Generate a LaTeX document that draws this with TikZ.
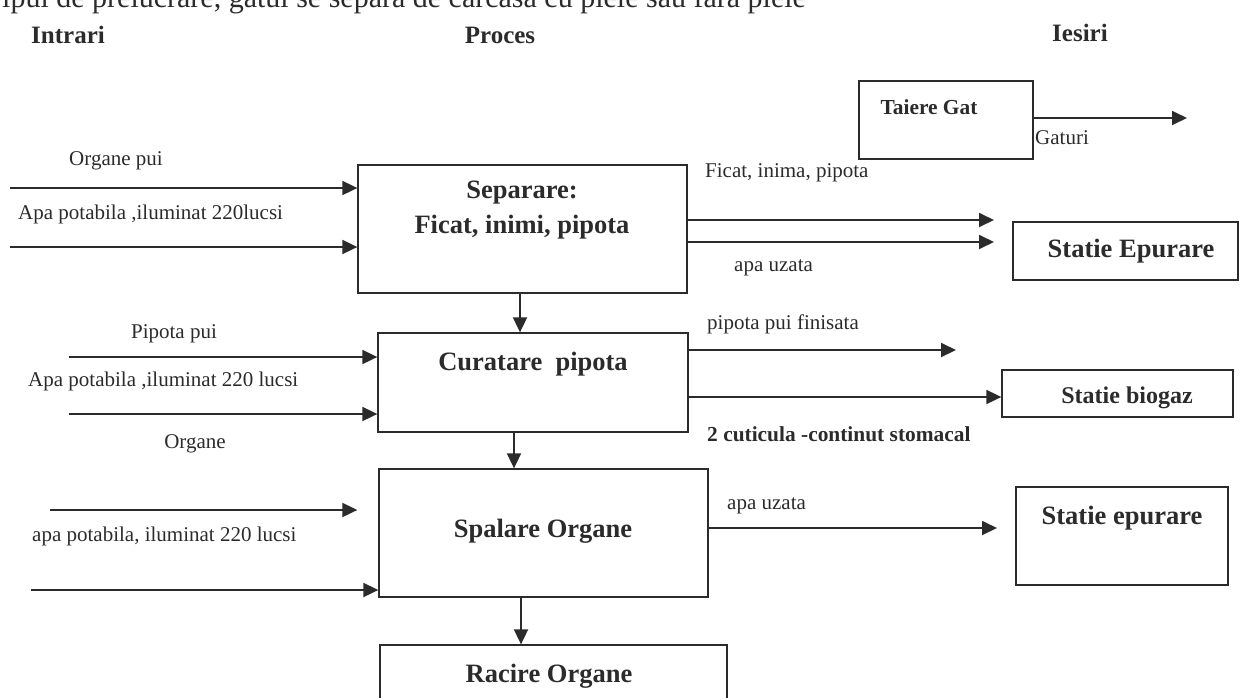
\documentclass[tikz,border=0pt]{standalone}
\usepackage{fontspec}
\setmainfont{Liberation Serif}
\usetikzlibrary{arrows.meta,calc}
\definecolor{ink}{HTML}{2B2B2B}
\tikzset{
  box/.style={draw=ink, line width=1.3pt, rectangle, inner sep=0pt},
  flow/.style={draw=ink, line width=1.8pt, -{Triangle[length=15pt,width=14pt]}},
  lbl/.style={font=\fontsize{21}{24}\selectfont, text=ink, inner sep=0pt},
  blbl/.style={font=\bfseries\fontsize{21.4}{24}\selectfont, text=ink, inner sep=0pt},
  head/.style={font=\bfseries\fontsize{25}{28}\selectfont, text=ink, inner sep=0pt},
  ttl/.style={font=\bfseries\fontsize{26.5}{30}\selectfont, text=ink, inner sep=0pt},
}
\begin{document}
\begin{tikzpicture}[x=1pt,y=-1pt]
\useasboundingbox (0,0) rectangle (1244,697);
\clip (0,0) rectangle (1244,697);

% running text line above the chart (only its lower half lies on the page)
\node[lbl, font=\fontsize{30}{34}\selectfont, anchor=base west] (toptext) at (2,7)
  {ipul de prelucrare, gatul se separa de carcasa cu piele sau fara piele};

% column headings
\node[head] (hin)  at (68,35)   {Intrari};
\node[head] (hpr)  at (500,35)  {Proces};
\node[head] (hout) at (1080,33) {Iesiri};

% process boxes
\node[box, minimum width=174pt, minimum height=78pt]  (tai) at (946,120)    {};
\node[box, minimum width=329pt, minimum height=128pt] (sep) at (522.5,229)  {};
\node[box, minimum width=310pt, minimum height=99pt]  (cur) at (533,382.5)  {};
\node[box, minimum width=329pt, minimum height=128pt] (spa) at (543.5,533)  {};
\node[box, minimum width=347pt, minimum height=90pt]  (rac) at (553.5,690)  {};

% output stations
\node[box, minimum width=225pt, minimum height=58pt] (ep1) at (1125.5,251)  {};
\node[box, minimum width=231pt, minimum height=47pt] (bio) at (1117.5,393.5){};
\node[box, minimum width=212pt, minimum height=98pt] (ep2) at (1122,536)    {};

% box titles
\node[blbl] (taiT) at (929,107) {Taiere Gat};
\node[ttl] (sepT1) at (522,193) {Separare:};
\node[ttl] (sepT2) at (522,227) {Ficat, inimi, pipota};
\node[ttl] (curT) at (533,364) {Curatare\ \ pipota};
\node[ttl] (spaT) at (543,531) {Spalare Organe};
\node[ttl] (racT) at (549,676) {Racire Organe};
\node[ttl] (ep1T) at (1131,251) {Statie Epurare};
\node[ttl, font=\bfseries\fontsize{24}{28}\selectfont] (bioT) at (1127,398) {Statie biogaz};
\node[ttl] (ep2T) at (1122,518) {Statie epurare};

% input labels
\node[lbl] (l1) at (116,161) {Organe pui};
\node[lbl, anchor=west] (l2) at (18,214) {Apa potabila ,iluminat 220lucsi};
\node[lbl] (l3) at (174,334) {Pipota pui};
\node[lbl, anchor=west] (l4) at (28,381) {Apa potabila ,iluminat 220 lucsi};
\node[lbl] (l5) at (195,444) {Organe};
\node[lbl, anchor=west] (l6) at (32,536) {apa potabila, iluminat 220 lucsi};

% output labels
\node[lbl, anchor=west] (o0) at (1035,138) {Gaturi};
\node[lbl, anchor=west] (o1) at (705,173) {Ficat, inima, pipota};
\node[lbl, anchor=west] (o2) at (734,268) {apa uzata};
\node[lbl, anchor=west] (o3) at (707,324) {pipota pui finisata};
\node[blbl, anchor=west] (o4) at (707,434) {2 cuticula -continut stomacal};
\node[lbl, anchor=west] (o5) at (727,506) {apa uzata};

% free ends of the flows
\coordinate (i1) at (10,188);
\coordinate (i2) at (10,247);
\coordinate (i3) at (69,357);
\coordinate (i4) at (69,414);
\coordinate (i5) at (50,510);
\coordinate (i6) at (31,590);
\coordinate (e0) at (1187,118);
\coordinate (e1) at (994,220);
\coordinate (e2) at (994,242);
\coordinate (e3) at (956,350);
\coordinate (e5) at (997,528);

% inputs
\draw[flow] (i1) -- (i1 -| sep.west);
\draw[flow] (i2) -- (i2 -| sep.west);
\draw[flow] (i3) -- (i3 -| cur.west);
\draw[flow] (i4) -- (i4 -| cur.west);
\draw[flow] (i5) -- ($(i5 -| spa.west)+(-21,0)$);
\draw[flow] (i6) -- (i6 -| spa.west);

% outputs
\draw[flow] (e0 -| tai.east) -- (e0);
\draw[flow] (e1 -| sep.east) -- (e1);
\draw[flow] (e2 -| sep.east) -- (e2);
\draw[flow] (e3 -| cur.east) -- (e3);
\draw[flow] (cur.east |- 0,397) -- (bio.west |- 0,397);
\draw[flow] (e5 -| spa.east) -- (e5);

% main line of the process
\draw[flow] (sep.south -| 520,0) -- (cur.north -| 520,0);
\draw[flow] (cur.south -| 514,0) -- (spa.north -| 514,0);
\draw[flow] (spa.south -| 521,0) -- (rac.north -| 521,0);
\end{tikzpicture}
\end{document}
